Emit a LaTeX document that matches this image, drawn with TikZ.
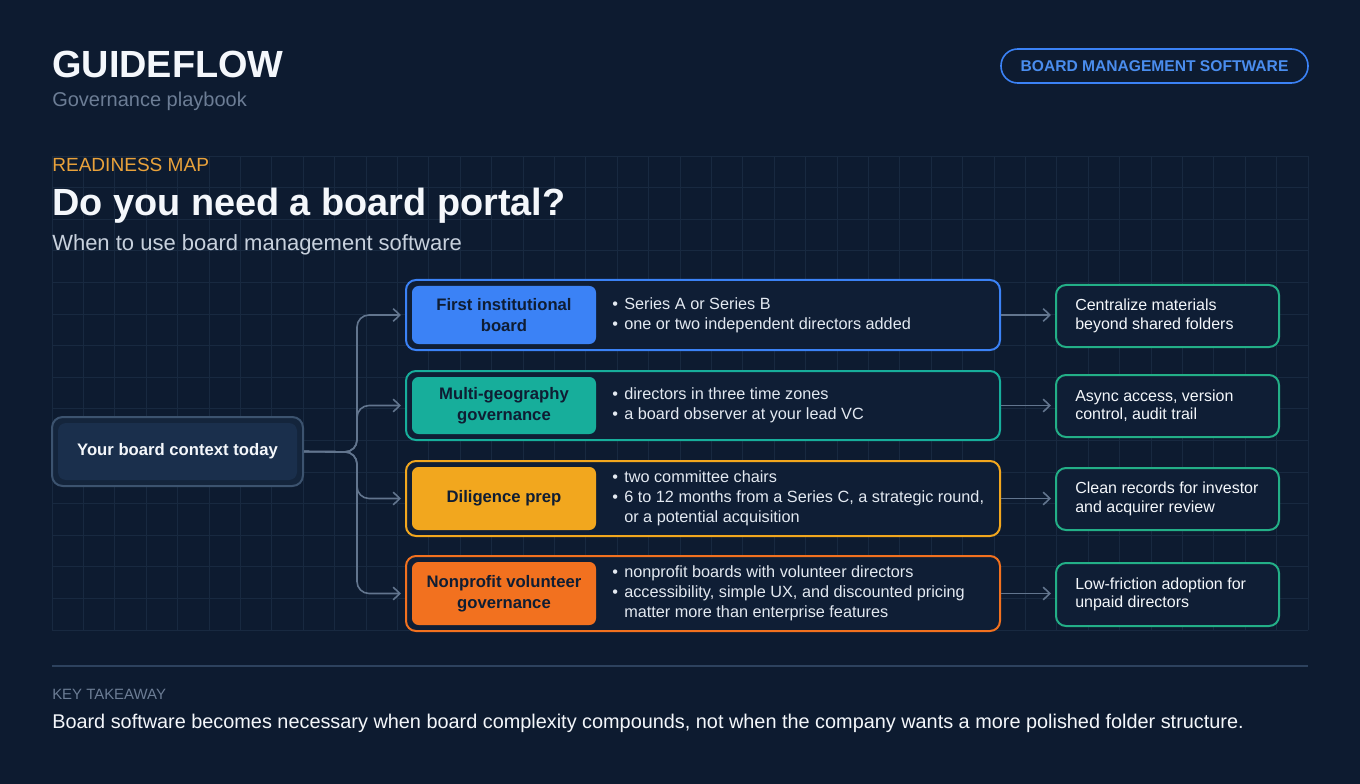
\documentclass[tikz,border=0pt]{standalone}
\usepackage{fontspec}
\setmainfont{Liberation Sans}
\usetikzlibrary{arrows.meta,fit}
\definecolor{bg}{HTML}{0D1B30}
\definecolor{gridc}{HTML}{182940}
\definecolor{whitet}{HTML}{F4F7FB}
\definecolor{grayt}{HTML}{6C7D95}
\definecolor{subt}{HTML}{C8D1DD}
\definecolor{amberlbl}{HTML}{E9A23B}
\definecolor{bluec}{HTML}{3B82F6}
\definecolor{badget}{HTML}{4A8DEE}
\definecolor{tealc}{HTML}{17AE9B}
\definecolor{amberc}{HTML}{F2A71E}
\definecolor{orangec}{HTML}{F2711F}
\definecolor{greenc}{HTML}{23AF87}
\definecolor{boxbg}{HTML}{0F1E35}
\definecolor{darkt}{HTML}{0F1D33}
\definecolor{bullt}{HTML}{E3E9F1}
\definecolor{connc}{HTML}{62758E}
\definecolor{ctxouter}{HTML}{14253C}
\definecolor{ctxborder}{HTML}{3C536F}
\definecolor{ctxinner}{HTML}{1A2F4C}
\definecolor{sepc}{HTML}{2D425E}
\newcommand\bul{\makebox[9pt][l]{•}}
\newcommand\nobul{\makebox[9pt][l]{}}
\begin{document}
\begin{tikzpicture}[x=0.75pt,y=-0.75pt,
  gridline/.style={draw=gridc,line width=0.6pt},
  rowbox/.style={inner sep=0pt,rounded corners=7.5pt,line width=1.5pt,fill=boxbg},
  lblbox/.style={inner sep=0pt,rounded corners=5pt},
  lbltext/.style={inner sep=0pt,text=darkt,align=center,
    font=\bfseries\fontsize{12.5pt}{15.5pt}\selectfont},
  bullets/.style={anchor=west,inner sep=0pt,align=left,text=bullt,
    font=\fontsize{12.2pt}{14.8pt}\selectfont},
  outbox/.style={inner sep=0pt,rounded corners=7.5pt,line width=1.5pt,draw=greenc,fill=boxbg},
  outtext/.style={anchor=west,inner sep=0pt,align=left,text=whitet,
    font=\fontsize{12pt}{13.8pt}\selectfont},
  conn/.style={draw=connc,line width=1.2pt},
  arr/.style={conn,-{Straight Barb[length=5pt,width=9.5pt,line width=1.2pt]},shorten >=3pt},
  heading/.style={anchor=base west,inner sep=0pt}
]
\useasboundingbox[fill=bg] (0,0) rectangle (1360,784);
% grid
\foreach \i in {0,...,40} \draw[gridline] ({52+\i*31.4},156) -- ({52+\i*31.4},630);
\foreach \j in {0,...,15} \draw[gridline] (52,{156+\j*31.6}) -- (1308,{156+\j*31.6});
% header
\node[heading,text=whitet,font=\bfseries\fontsize{28.4pt}{32pt}\selectfont] (brand) at (52,78) {GUIDEFLOW};
\node[heading,text=grayt,font=\fontsize{15pt}{18pt}\selectfont] (tag) at (52,107) {Governance playbook};
\node[inner sep=0pt,fit={(1001,49)(1308,83)},rounded corners=12.5pt,draw=bluec,line width=1.2pt] (badge) {};
\node[inner sep=0pt,text=badget,font=\bfseries\fontsize{11.7pt}{14pt}\selectfont] (badgel) at (badge.center) {BOARD MANAGEMENT SOFTWARE};
\node[heading,text=amberlbl,font=\fontsize{14.3pt}{17pt}\selectfont] (kicker) at (52,172) {READINESS MAP};
\node[heading,text=whitet,font=\bfseries\fontsize{28.4pt}{32pt}\selectfont] (title) at (52,216) {Do you need a board portal?};
\node[heading,text=subt,font=\fontsize{16.5pt}{19pt}\selectfont] (subtitle) at (52,251) {When to use board management software};
% context node
\node[inner sep=0pt,fit={(52,417)(303,486)},rounded corners=8pt,draw=ctxborder,line width=1.5pt,fill=ctxouter] (ctx) {};
\node[inner sep=0pt,fit={(58,423)(297,480)},rounded corners=6pt,fill=ctxinner] (ctxin) {};
\node[inner sep=0pt,text=whitet,font=\bfseries\fontsize{12.5pt}{15pt}\selectfont] (ctxl) at (ctx.center) {Your board context today};
% rows
\node[rowbox,draw=bluec,fit={(406,280)(1000,350)}] (r1) {};
\node[lblbox,fill=bluec,fit={(412,286)(596,344)}] (l1) {};
\node[lbltext] (l1t) at (l1.center) {First institutional\\board};
\node[bullets] (b1) at (612,315) {\bul Series A or Series B\\\bul one or two independent directors added};

\node[rowbox,draw=tealc,fit={(406,371)(1000,440)}] (r2) {};
\node[lblbox,fill=tealc,fit={(412,377)(596,434)}] (l2) {};
\node[lbltext] (l2t) at (l2.center) {Multi-geography\\governance};
\node[bullets] (b2) at (612,405.5) {\bul directors in three time zones\\\bul a board observer at your lead VC};

\node[rowbox,draw=amberc,fit={(406,461)(1000,536)}] (r3) {};
\node[lblbox,fill=amberc,fit={(412,467)(596,530)}] (l3) {};
\node[lbltext] (l3t) at (l3.center) {Diligence prep};
\node[bullets] (b3) at (612,498.5) {\bul two committee chairs\\\bul 6 to 12 months from a Series C, a strategic round,\\\nobul or a potential acquisition};

\node[rowbox,draw=orangec,fit={(406,556)(1000,631)}] (r4) {};
\node[lblbox,fill=orangec,fit={(412,562)(596,625)}] (l4) {};
\node[lbltext] (l4t) at (l4.center) {Nonprofit volunteer\\governance};
\node[bullets] (b4) at (612,593.5) {\bul nonprofit boards with volunteer directors\\\bul accessibility, simple UX, and discounted pricing\\\nobul matter more than enterprise features};
% outcomes
\node[outbox,fit={(1056,285)(1279,347)}] (o1) {};
\node[outtext] (o1t) at (1075,316) {Centralize materials\\beyond shared folders};
\node[outbox,fit={(1056,375)(1279,437)}] (o2) {};
\node[outtext] (o2t) at (1075,406) {Async access, version\\control, audit trail};
\node[outbox,fit={(1056,468)(1279,530)}] (o3) {};
\node[outtext] (o3t) at (1075,499) {Clean records for investor\\and acquirer review};
\node[outbox,fit={(1056,563)(1279,626)}] (o4) {};
\node[outtext] (o4t) at (1075,594.5) {Low-friction adoption for\\unpaid directors};
% connectors
\foreach \r in {r1,r2,r3,r4}
  \draw[arr,rounded corners=9pt] (ctx.east) -- (357,452) |- (\r.west);
\foreach \a/\b in {r1/o1,r2/o2,r3/o3,r4/o4}
  \draw[arr] (\a.east) -- (\a.east -| \b.west);
% footer
\coordinate (sepL) at (52,666);
\coordinate (sepR) at (1308,666);
\draw[draw=sepc,line width=1.5pt] (sepL) -- (sepR);
\node[heading,text=grayt,font=\fontsize{11.2pt}{13pt}\selectfont] (kt) at (52,699) {KEY TAKEAWAY};
\node[heading,text=whitet,font=\fontsize{14.9pt}{17pt}\selectfont] (takeaway) at (52,728) {Board software becomes necessary when board complexity compounds, not when the company wants a more polished folder structure.};
\end{tikzpicture}
\end{document}
